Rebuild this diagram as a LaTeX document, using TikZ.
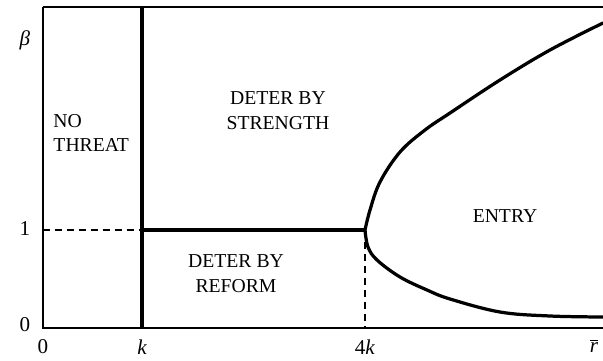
\documentclass[tikz,border=0pt]{standalone}
\usepackage{fontspec}
\setmainfont{Liberation Serif}
\usetikzlibrary{positioning,calc}

\begin{document}
\begin{tikzpicture}[
  region/.style={font=\fontsize{14}{17.7}\selectfont, align=center, inner sep=0pt},
  tick/.style={font=\fontsize{15}{18}\selectfont, inner sep=0pt},
  axis/.style={line width=1.1pt},
  border/.style={line width=2.2pt},
  guide/.style={line width=1pt, dash pattern=on 5pt off 3.5pt},
  curve/.style={line width=2.3pt, line join=round, line cap=round},
]
\useasboundingbox (0,0) rectangle (15.075,9);

% corners and key points
\coordinate (orig) at (1.075,0.8);
\coordinate (topl) at (1.075,8.825);
\coordinate (topr) at (15.075,8.825);
\coordinate (botr) at (15.075,0.8);
\coordinate (kbot) at (3.55,0.8);
\coordinate (ktop) at (3.55,8.825);
\coordinate (onel) at (1.075,3.25);
\coordinate (onek) at (3.55,3.25);
\coordinate (cusp) at (9.125,3.25);
\coordinate (cuspbot) at (9.125,0.8);

\draw[axis] (botr) -- (orig) -- (topl);
\draw[line width=0.8pt] (topl) -- (topr);
\draw[border] (kbot) -- (ktop);
\draw[border] (onek) -- (cusp);
\draw[guide] (onel) -- (onek);
\draw[guide] (cusp) -- (cuspbot);

\draw[curve] plot[smooth, tension=0.6] coordinates {(9.125,3.25) (9.25,3.75) (9.5,4.45) (10,5.2) (10.625,5.75) (11.25,6.175) (12.5,7) (13.75,7.75) (15.075,8.425)};
\draw[curve] plot[smooth, tension=0.6] coordinates {(9.125,3.25) (9.2,2.825) (9.425,2.5) (10,2.075) (10.675,1.75) (11.25,1.525) (12.5,1.2) (13.75,1.1) (15.075,1.075)};

\node[tick] (beta) at (0.625,8.0) {\itshape β};
\node[tick] (yone) at (0.625,3.275) {1};
\node[tick] (yzero) at (0.625,0.875) {0};

\node[tick] (xzero) at (1.075,0.325) {0};
\node[tick] (xk) at (3.55,0.325) {\itshape k};
\node[tick] (xfourk) at (9.125,0.325) {4\textit{k}};
\node[tick] (xrbar) at (14.85,0.35) {$\overline{\mbox{\itshape r}}$};

\node[region, align=left, anchor=west] (nothreat) at (1.33,5.675) {NO\\THREAT};
\node[region] (strength) at (6.95,6.23) {DETER BY\\STRENGTH};
\node[region] (reform) at (5.9,2.15) {DETER BY\\REFORM};
\node[region] (entry) at (12.625,3.6) {ENTRY};

\end{tikzpicture}
\end{document}
